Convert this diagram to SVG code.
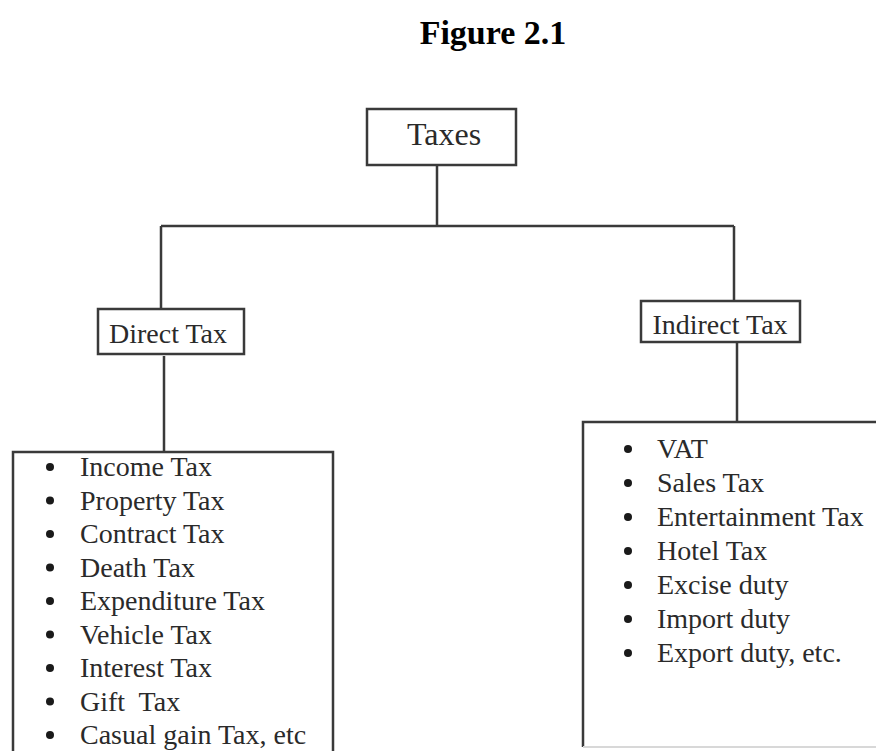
<svg xmlns="http://www.w3.org/2000/svg" width="876" height="751" viewBox="0 0 876 751">
<style>
.box{fill:#fff;stroke:#3a3a3a;stroke-width:2.5}
.con{fill:none;stroke:#3a3a3a;stroke-width:2.5}
.lbl{font-family:"Liberation Serif","Times New Roman",serif;font-size:28px;fill:#2a2a2a}
.item{font-family:"Liberation Serif","Times New Roman",serif;font-size:28px;fill:#2a2a2a}
.bul{fill:#1a1a1a}
.title{font-family:"Liberation Serif","Times New Roman",serif;font-size:34px;font-weight:bold;fill:#000}
</style>
<rect width="876" height="751" fill="#fff"/>
<text class="title" x="493" y="44" text-anchor="middle">Figure 2.1</text>
<g id="connectors">
<path class="con" d="M437,165 V226 M161,226 H734 M161,226 V309 M734,226 V301 M164,356 V452 M737,342 V422"/>
</g>
<g id="taxes">
<rect class="box" x="367" y="109" width="149" height="56"/>
<text class="lbl" x="444" y="145" text-anchor="middle" style="font-size:32px">Taxes</text>
</g>
<g id="direct">
<rect class="box" x="98" y="309" width="146" height="45"/>
<text class="lbl" x="168" y="343" text-anchor="middle">Direct Tax</text>
</g>
<g id="indirect">
<rect class="box" x="641" y="301" width="159" height="41"/>
<text class="lbl" x="720" y="334" text-anchor="middle">Indirect Tax</text>
</g>
<g id="direct-list">
<path class="box" d="M13,751 V452 H333 V751"/>
<g class="bul">
<circle cx="50" cy="467" r="4"/><circle cx="50" cy="500.5" r="4"/><circle cx="50" cy="534" r="4"/><circle cx="50" cy="567.5" r="4"/><circle cx="50" cy="601" r="4"/><circle cx="50" cy="634.5" r="4"/><circle cx="50" cy="668" r="4"/><circle cx="50" cy="701.5" r="4"/><circle cx="50" cy="735" r="4"/>
</g>
<text class="item" x="80" y="476">Income Tax</text>
<text class="item" x="80" y="509.5">Property Tax</text>
<text class="item" x="80" y="543">Contract Tax</text>
<text class="item" x="80" y="576.5">Death Tax</text>
<text class="item" x="80" y="610">Expenditure Tax</text>
<text class="item" x="80" y="643.5">Vehicle Tax</text>
<text class="item" x="80" y="677">Interest Tax</text>
<text class="item" x="80" y="710.5" xml:space="preserve">Gift  Tax</text>
<text class="item" x="80" y="744">Casual gain Tax, etc</text>
</g>
<g id="indirect-list">
<path class="box" d="M876,422 H583 V747"/>
<path d="M583,747 H876" stroke="#d8d8d8" stroke-width="2" fill="none"/>
<g class="bul">
<circle cx="628" cy="449" r="4"/><circle cx="628" cy="483" r="4"/><circle cx="628" cy="517" r="4"/><circle cx="628" cy="551" r="4"/><circle cx="628" cy="585" r="4"/><circle cx="628" cy="619" r="4"/><circle cx="628" cy="653" r="4"/>
</g>
<text class="item" x="657" y="458">VAT</text>
<text class="item" x="657" y="492">Sales Tax</text>
<text class="item" x="657" y="526">Entertainment Tax</text>
<text class="item" x="657" y="560">Hotel Tax</text>
<text class="item" x="657" y="594">Excise duty</text>
<text class="item" x="657" y="628">Import duty</text>
<text class="item" x="657" y="662">Export duty, etc.</text>
</g>
</svg>
